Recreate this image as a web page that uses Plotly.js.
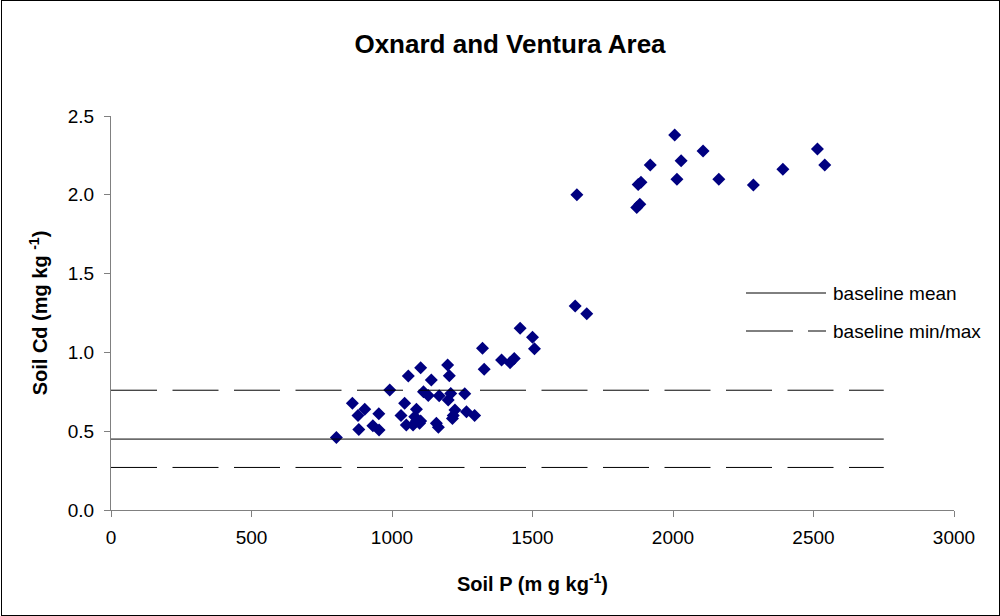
<!DOCTYPE html>
<html>
<head>
<meta charset="utf-8">
<script src="https://cdn.plot.ly/plotly-3.0.1.min.js"></script>
<style>
  html, body { margin: 0; padding: 0; background: #fff; }
  #wrap { position: relative; width: 1000px; height: 616px; }
  #chart { width: 1000px; height: 616px; }
  #frame { position: absolute; left: 1px; top: 0px; width: 997px; height: 614px; border: 1px solid #000; pointer-events: none; }
</style>
</head>
<body>
<div id="wrap">
  <div id="chart"></div>
  <div id="frame"></div>
</div>
<script>
// Soil P (mg/kg) and Soil Cd (mg/kg), Oxnard and Ventura Area
const soilP = [
  802, 859, 903, 879, 953, 882, 932, 954, 992, 1045,
  1032, 1058, 1102, 1140, 1198, 1204, 1112, 1129, 1168, 1209,
  1200, 1259, 1087, 1051, 1075, 1098, 1087, 1102, 1081, 1158,
  1165, 1218, 1215, 1265, 1294, 1224,
  1322, 1328, 1390, 1420, 1435, 1456, 1500, 1507,
  1658, 1652, 1693, 1871, 1882, 1876, 1886, 1919, 2006, 2014,
  2029, 2107, 2163, 2286, 2391, 2514, 2540
];
const soilCd = [
  0.46, 0.677, 0.64, 0.60, 0.61, 0.51, 0.535, 0.508, 0.761, 0.677,
  0.60, 0.85, 0.903, 0.825, 0.92, 0.852, 0.751, 0.727, 0.725, 0.74,
  0.698, 0.737, 0.64, 0.54, 0.54, 0.55, 0.565, 0.565, 0.592, 0.55,
  0.525, 0.60, 0.58, 0.624, 0.60, 0.635,
  1.026, 0.893, 0.952, 0.935, 0.962, 1.153, 1.096, 1.023,
  2.0, 1.294, 1.246, 1.92, 1.94, 2.065, 2.08, 2.189, 2.379, 2.098,
  2.216, 2.278, 2.098, 2.062, 2.162, 2.291, 2.189
];

const baselineX = [0, 2750];
const baselineMean = 0.45;
const baselineMin = 0.27;
const baselineMax = 0.76;

const legendLabels = ['baseline mean', 'baseline min/max'];

const FONT = 'Liberation Sans, Arial, sans-serif';

const traces = [
  {
    x: soilP, y: soilCd, type: 'scatter', mode: 'markers', name: 'samples',
    marker: { symbol: 'diamond', size: 10, color: '#000080' },
    showlegend: false, cliponaxis: false
  },
  {
    x: baselineX, y: [baselineMean, baselineMean], type: 'scatter', mode: 'lines',
    name: legendLabels[0], line: { color: '#000', width: 1 }, showlegend: false
  },
  {
    x: baselineX, y: [baselineMax, baselineMax], type: 'scatter', mode: 'lines',
    name: legendLabels[1], line: { color: '#000', width: 1, dash: '46px,15.5px' }, showlegend: false
  },
  {
    x: baselineX, y: [baselineMin, baselineMin], type: 'scatter', mode: 'lines',
    name: legendLabels[1], line: { color: '#000', width: 1, dash: '46px,15.5px' }, showlegend: false
  }
];

// plot area: x 111..954, y 116..510
const L = 111, R = 954, T = 116, B = 510;
const px = v => (v - L) / (R - L);
const py = v => (B - v) / (B - T);

const layout = {
  width: 1000, height: 616,
  margin: { l: L, r: 1000 - R, t: T, b: 616 - B, pad: 0 },
  paper_bgcolor: '#fff', plot_bgcolor: '#fff',
  font: { family: FONT, size: 19, color: '#000' },
  title: {
    text: '<b>Oxnard and Ventura Area</b>',
    font: { family: FONT, size: 26, color: '#000' },
    x: 0.51, xanchor: 'center', y: 1 - 44 / 616, yanchor: 'middle'
  },
  xaxis: {
    range: [0, 3000], dtick: 500, tick0: 0,
    showgrid: false, zeroline: false,
    showline: true, linecolor: '#808080', linewidth: 1,
    ticks: 'outside', ticklen: 6, tickcolor: '#808080',
    ticklabelstandoff: 4,
    tickfont: { family: FONT, size: 19 },
    title: { text: '<b>Soil P (m g kg<sup>-1</sup>)</b>', font: { family: FONT, size: 20 }, standoff: 30 }
  },
  yaxis: {
    range: [0, 2.5], dtick: 0.5, tick0: 0, tickformat: '.1f',
    showgrid: false, zeroline: false,
    showline: true, linecolor: '#808080', linewidth: 1,
    ticks: 'outside', ticklen: 6, tickcolor: '#808080',
    ticklabelstandoff: 6,
    tickfont: { family: FONT, size: 19 },
    title: { text: '<b>Soil Cd (mg kg <sup>-1</sup>)</b>', font: { family: FONT, size: 20 }, standoff: 14 }
  },
  shapes: [
    { type: 'line', xref: 'paper', yref: 'paper', x0: px(746), x1: px(826), y0: py(293), y1: py(293),
      line: { color: '#000', width: 1 } },
    { type: 'line', xref: 'paper', yref: 'paper', x0: px(746), x1: px(793), y0: py(331), y1: py(331),
      line: { color: '#000', width: 1 } },
    { type: 'line', xref: 'paper', yref: 'paper', x0: px(808), x1: px(826), y0: py(331), y1: py(331),
      line: { color: '#000', width: 1 } }
  ],
  annotations: [
    { xref: 'paper', yref: 'paper', x: px(831), y: py(293), xanchor: 'left', yanchor: 'middle',
      text: legendLabels[0], showarrow: false, font: { family: FONT, size: 19, color: '#000' } },
    { xref: 'paper', yref: 'paper', x: px(831), y: py(331), xanchor: 'left', yanchor: 'middle',
      text: legendLabels[1], showarrow: false, font: { family: FONT, size: 19, color: '#000' } }
  ],
  showlegend: false
};

Plotly.newPlot('chart', traces, layout, { displayModeBar: false, staticPlot: true });
</script>
</body>
</html>
